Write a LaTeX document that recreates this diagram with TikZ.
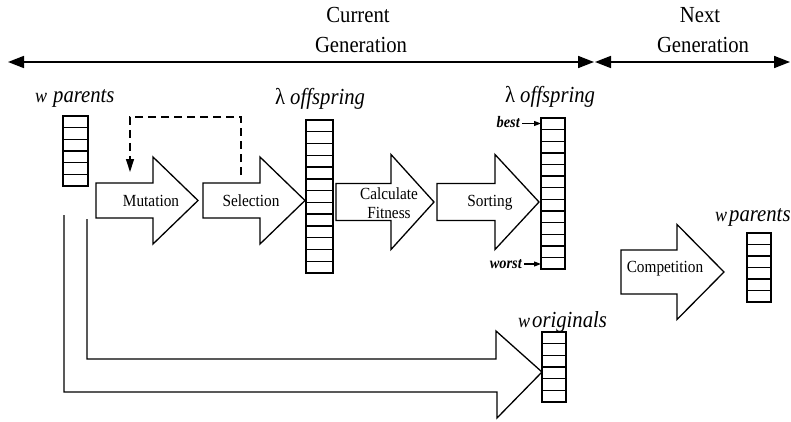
\documentclass[tikz,border=0pt]{standalone}
\usepackage{fontspec}
\setmainfont{Liberation Serif}[FakeStretch=0.9]
\usetikzlibrary{arrows.meta}
\newcommand\cellstack[5]{%
  \foreach \i in {1,...,#4}{\draw[stackline] (#1,{#2+(\i-1)*#5}) rectangle ++(#3,#5);}}
\newcommand\blockarrow[6]{%
  \draw[arrline] (#1,#4-#5) -- (#2,#4-#5) -- (#2,#4-#6) -- (#3,#4) -- (#2,#4+#6) -- (#2,#4+#5) -- (#1,#4+#5) -- cycle;}
\begin{document}
\begin{tikzpicture}[x=1pt,y=-1pt,
  stackline/.style={draw, line width=1.4pt},
  arrline/.style={draw, line width=1.3pt, line join=miter},
  toparrow/.style={line width=1.7pt, {Triangle[length=16pt,width=12pt]}-{Triangle[length=16pt,width=12pt]}},
  bigtext/.style={font=\fontsize{23}{26}\selectfont, inner sep=0pt, anchor=base},
  boxtext/.style={font=\fontsize{17}{19}\selectfont, inner sep=0pt, align=center},
  labtext/.style={font=\fontsize{23}{26}\selectfont\itshape, inner sep=0pt, anchor=base west},
  ranktext/.style={font=\fontsize{16}{18}\selectfont\bfseries\itshape, inner sep=0pt, anchor=base east},
  smallarrow/.style={line width=1.1pt, -{Triangle[length=7pt,width=5pt]}},
  feedback/.style={line width=1.3pt, dash pattern=on 8pt off 5pt, -{Triangle[length=13pt,width=8pt]}}
]
\useasboundingbox (0,0) rectangle (791,422);

% top generation arrows
\coordinate (gL) at (8,62);
\coordinate (gM1) at (594,62);
\coordinate (gM2) at (595,62);
\coordinate (gR) at (790,62);
\draw[toparrow] (gL) -- (gM1);
\draw[toparrow] (gM2) -- (gR);
\node[bigtext] (cur1) at (358,23) {Current};
\node[bigtext] (cur2) at (361,53) {Generation};
\node[bigtext] (nxt1) at (700,23) {Next};
\node[bigtext] (nxt2) at (703,53) {Generation};

% stacks
\cellstack{63}{116}{25}{6}{11.67}
\cellstack{306}{120}{27}{13}{11.77}
\cellstack{541}{118}{24}{13}{11.62}
\cellstack{747}{233}{24}{6}{11.5}
\cellstack{542}{332}{24}{6}{11.67}

% labels
\node[labtext] (lp1) at (35,103) {{\fontsize{20}{22}\selectfont w}\hspace{6pt}parents};
\node[labtext] (lo1) at (275,105) {{\upshape λ}\hspace{5pt}offspring};
\node[labtext] (lo2) at (505,103) {{\upshape λ}\hspace{5pt}offspring};
\node[labtext] (lw) at (518,327) {{\fontsize{20}{22}\selectfont w}\hspace{2pt}originals};
\node[labtext] (lp2) at (715,221) {{\fontsize{20}{22}\selectfont w}\hspace{2pt}parents};

% best / worst
\node[ranktext] (best) at (520,128) {best};
\node[ranktext] (worst) at (522,268) {worst};
\coordinate (bestT) at (541,123.5);
\coordinate (worstT) at (541,264);
\draw[smallarrow] (best.east |- bestT) ++(2,0) -- (bestT);
\draw[smallarrow] (worst.east |- worstT) ++(2,0) -- (worstT);

% block arrows
\blockarrow{96}{153}{198}{200.5}{17.5}{43.5}
\blockarrow{203}{260}{305}{200.5}{17.5}{43.5}
\blockarrow{336}{391}{434}{202}{18.5}{47.5}
\blockarrow{437}{495}{539}{202}{18.5}{47.5}
\blockarrow{621}{677}{724}{272}{22}{47.5}
\node[boxtext] (mut) at (151,201) {Mutation};
\node[boxtext] (sel) at (251,201) {Selection};
\node[boxtext, font=\fontsize{17}{19}\selectfont] (fit) at (389,203) {Calculate\\Fitness};
\node[boxtext] (srt) at (490,203) {Sorting};
\node[boxtext] (cmp) at (665,269) {Competition};

% feedback dashed
\coordinate (fbA) at (241,175);
\coordinate (fbB) at (241,117);
\coordinate (fbC) at (130,117);
\coordinate (fbD) at (130,172);
\draw[feedback] (fbA) -- (fbB) -- (fbC) -- (fbD);

% originals bent arrow
\draw[arrline] (87,219) -- (87,359) -- (496,359) -- (496,331) -- (542,372) -- (497,418) -- (497,392) -- (64,392) -- (64,215);
\end{tikzpicture}
\end{document}
